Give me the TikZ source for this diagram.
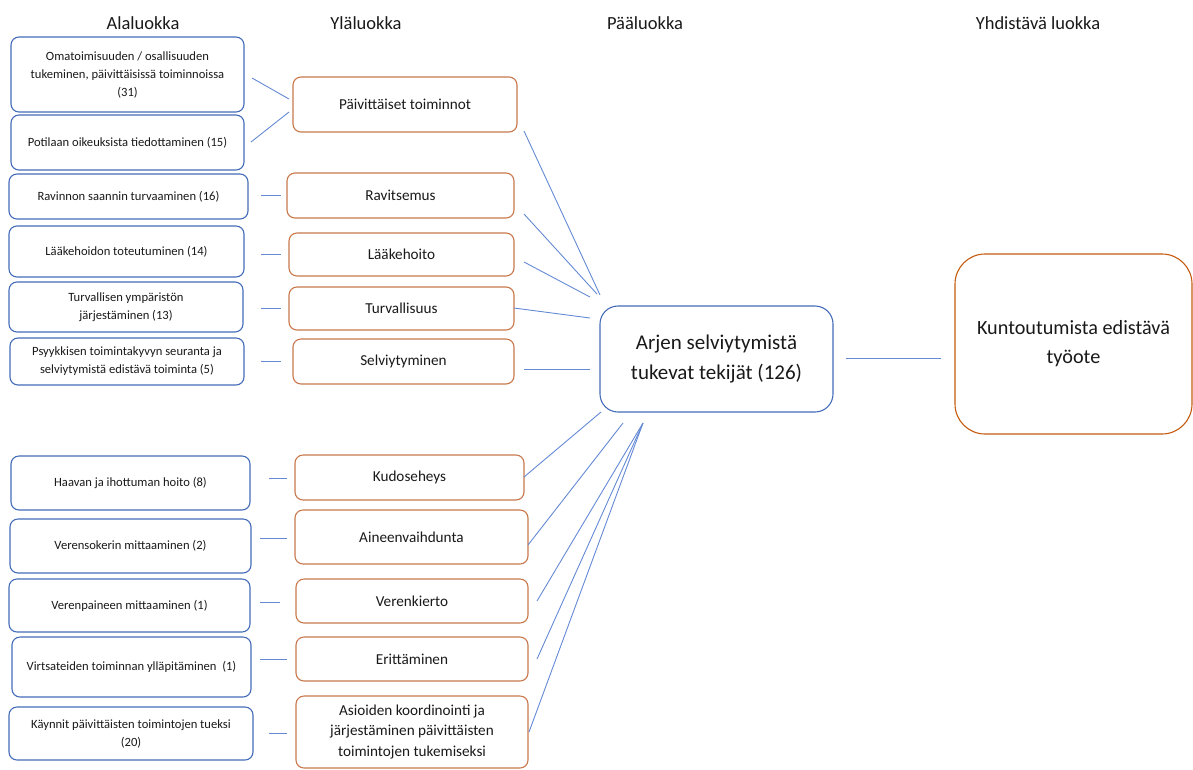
\documentclass[tikz,border=0pt]{standalone}
\usepackage{fontspec}
\setmainfont{Carlito}
\definecolor{bluebox}{RGB}{68,108,184}
\definecolor{orangebox}{RGB}{200,120,75}
\definecolor{darkorange}{RGB}{197,90,17}
\definecolor{linkblue}{RGB}{100,138,212}
\definecolor{txt}{RGB}{25,25,25}
\begin{document}
\begin{tikzpicture}[x=1pt,y=-1pt,
  box/.style={draw,rounded corners=8pt,line width=1.1pt,inner sep=0pt,align=center,text=txt},
  subbox/.style={box,draw=bluebox,font=\fontsize{12.6}{18}\selectfont},
  upbox/.style={box,draw=orangebox,font=\fontsize{15.2}{20.5}\selectfont},
  mainbox/.style={box,draw=bluebox,rounded corners=18pt,font=\fontsize{21}{30}\selectfont},
  topbox/.style={box,draw=darkorange,rounded corners=30pt,font=\fontsize{20.2}{29}\selectfont},
  head/.style={inner sep=0pt,text=txt,font=\fontsize{18.5}{22}\selectfont},
  link/.style={draw=linkblue,line width=0.9pt}]
\useasboundingbox (0,0) rectangle (1193,769);

% headers
\node[head] (h1) at (143,23) {Alaluokka};
\node[head] (h2) at (366,23) {Yläluokka};
\node[head] (h3) at (645,23) {Pääluokka};
\node[head] (h4) at (1038,23) {Yhdistävä luokka};

% sub-category boxes
\node[subbox,minimum width=233,minimum height=75] (L1) at (127.5,74.5) {Omatoimisuuden / osallisuuden\\tukeminen, päivittäisissä toiminnoissa\\(31)};
\node[subbox,minimum width=233,minimum height=55] (L2) at (127.5,142.5) {Potilaan oikeuksista tiedottaminen (15)};
\node[subbox,minimum width=239,minimum height=45] (L3) at (128.5,196.5) {Ravinnon saannin turvaaminen (16)};
\node[subbox,minimum width=235,minimum height=51] (L4) at (126.5,251.5) {Lääkehoidon toteutuminen (14)};
\node[subbox,minimum width=234,minimum height=50] (L5) at (126,307) {Turvallisen ympäristön\\järjestäminen (13)};
\node[subbox,minimum width=234,minimum height=47] (L6) at (127,361.5) {Psyykkisen toimintakyvyn seuranta ja\\selviytymistä edistävä toiminta (5)};
\node[subbox,minimum width=239,minimum height=54] (L7) at (130.5,483) {Haavan ja ihottuman hoito (8)};
\node[subbox,minimum width=241,minimum height=54] (L8) at (130.5,546) {Verensokerin mittaaminen (2)};
\node[subbox,minimum width=241,minimum height=53] (L9) at (129.5,605.5) {Verenpaineen mittaaminen (1)};
\node[subbox,minimum width=239,minimum height=60] (L10) at (131.5,667) {Virtsateiden toiminnan ylläpitäminen~ (1)};
\node[subbox,minimum width=244,minimum height=53] (L11) at (131,733.5) {Käynnit päivittäisten toimintojen tueksi\\(20)};

% upper-category boxes
\node[upbox,minimum width=224,minimum height=55] (M1) at (405,104.5) {Päivittäiset toiminnot};
\node[upbox,minimum width=227,minimum height=45] (M2) at (400.5,195.5) {Ravitsemus};
\node[upbox,minimum width=225,minimum height=43] (M3) at (401.5,254.5) {Lääkehoito};
\node[upbox,minimum width=225,minimum height=43] (M4) at (401.5,308.5) {Turvallisuus};
\node[upbox,minimum width=221,minimum height=45] (M5) at (403.5,361.5) {Selviytyminen};
\node[upbox,minimum width=229,minimum height=45] (M6) at (409.5,477.5) {Kudoseheys};
\node[upbox,minimum width=233,minimum height=54] (M7) at (411.5,537) {Aineenvaihdunta};
\node[upbox,minimum width=232,minimum height=44] (M8) at (412,601) {Verenkierto};
\node[upbox,minimum width=232,minimum height=44] (M9) at (412,659) {Erittäminen};
\node[upbox,minimum width=232,minimum height=72] (M10) at (412,732) {Asioiden koordinointi ja\\järjestäminen päivittäisten\\toimintojen tukemiseksi};

% main and combining boxes
\node[mainbox,minimum width=233,minimum height=106] (P) at (716.5,359) {Arjen selviytymistä\\tukevat tekijät (126)};
\node[topbox,minimum width=237,minimum height=180] (Y) at (1073.5,344) {Kuntoutumista edistävä\\työote};

% connector end points (lines stop short of the boxes)
\coordinate (l1) at (252,78);   \coordinate (m1a) at (289,99);
\coordinate (l2) at (251,142);  \coordinate (m1b) at (289,112);
\coordinate (l3) at (261,195);  \coordinate (m2) at (281,195);
\coordinate (l4) at (261,254);  \coordinate (m3) at (281,254);
\coordinate (l5) at (261,308);  \coordinate (m4) at (281,308);
\coordinate (l6) at (261,361);  \coordinate (m5) at (281,361);
\coordinate (l7) at (269,478);  \coordinate (m6) at (287,478);
\coordinate (l8) at (260,538);  \coordinate (m7) at (287,538);
\coordinate (l9) at (260,602);  \coordinate (m8) at (280,602);
\coordinate (l10) at (260,659); \coordinate (m9) at (287,659);
\coordinate (l11) at (269,733); \coordinate (m10) at (287,733);

\coordinate (r1) at (524,131);  \coordinate (p1) at (600,295);
\coordinate (r2) at (524,214);  \coordinate (p2) at (597,294);
\coordinate (r3) at (524,262);  \coordinate (p3) at (590,297);
\coordinate (r4) at (514,308);  \coordinate (p4) at (590,318);
\coordinate (r5) at (524,369);  \coordinate (p5) at (590,369);
\coordinate (r6) at (524,477);  \coordinate (p6) at (601,412);
\coordinate (r7) at (528,545);  \coordinate (p7) at (623,423);
\coordinate (r8) at (537,601);  \coordinate (p8) at (643,423);
\coordinate (r9) at (537,659);  \coordinate (p9) at (643,423);
\coordinate (r10) at (529,732); \coordinate (p10) at (643,423);
\coordinate (pq) at (846,358);  \coordinate (yq) at (941,358);

% connectors
\draw[link] (l1) -- (m1a);
\draw[link] (l2) -- (m1b);
\draw[link] (l3) -- (m2);
\draw[link] (l4) -- (m3);
\draw[link] (l5) -- (m4);
\draw[link] (l6) -- (m5);
\draw[link] (l7) -- (m6);
\draw[link] (l8) -- (m7);
\draw[link] (l9) -- (m8);
\draw[link] (l10) -- (m9);
\draw[link] (l11) -- (m10);
\draw[link] (r1) -- (p1);
\draw[link] (r2) -- (p2);
\draw[link] (r3) -- (p3);
\draw[link] (r4) -- (p4);
\draw[link] (r5) -- (p5);
\draw[link] (r6) -- (p6);
\draw[link] (r7) -- (p7);
\draw[link] (r8) -- (p8);
\draw[link] (r9) -- (p9);
\draw[link] (r10) -- (p10);
\draw[link] (pq) -- (yq);
\end{tikzpicture}
\end{document}
